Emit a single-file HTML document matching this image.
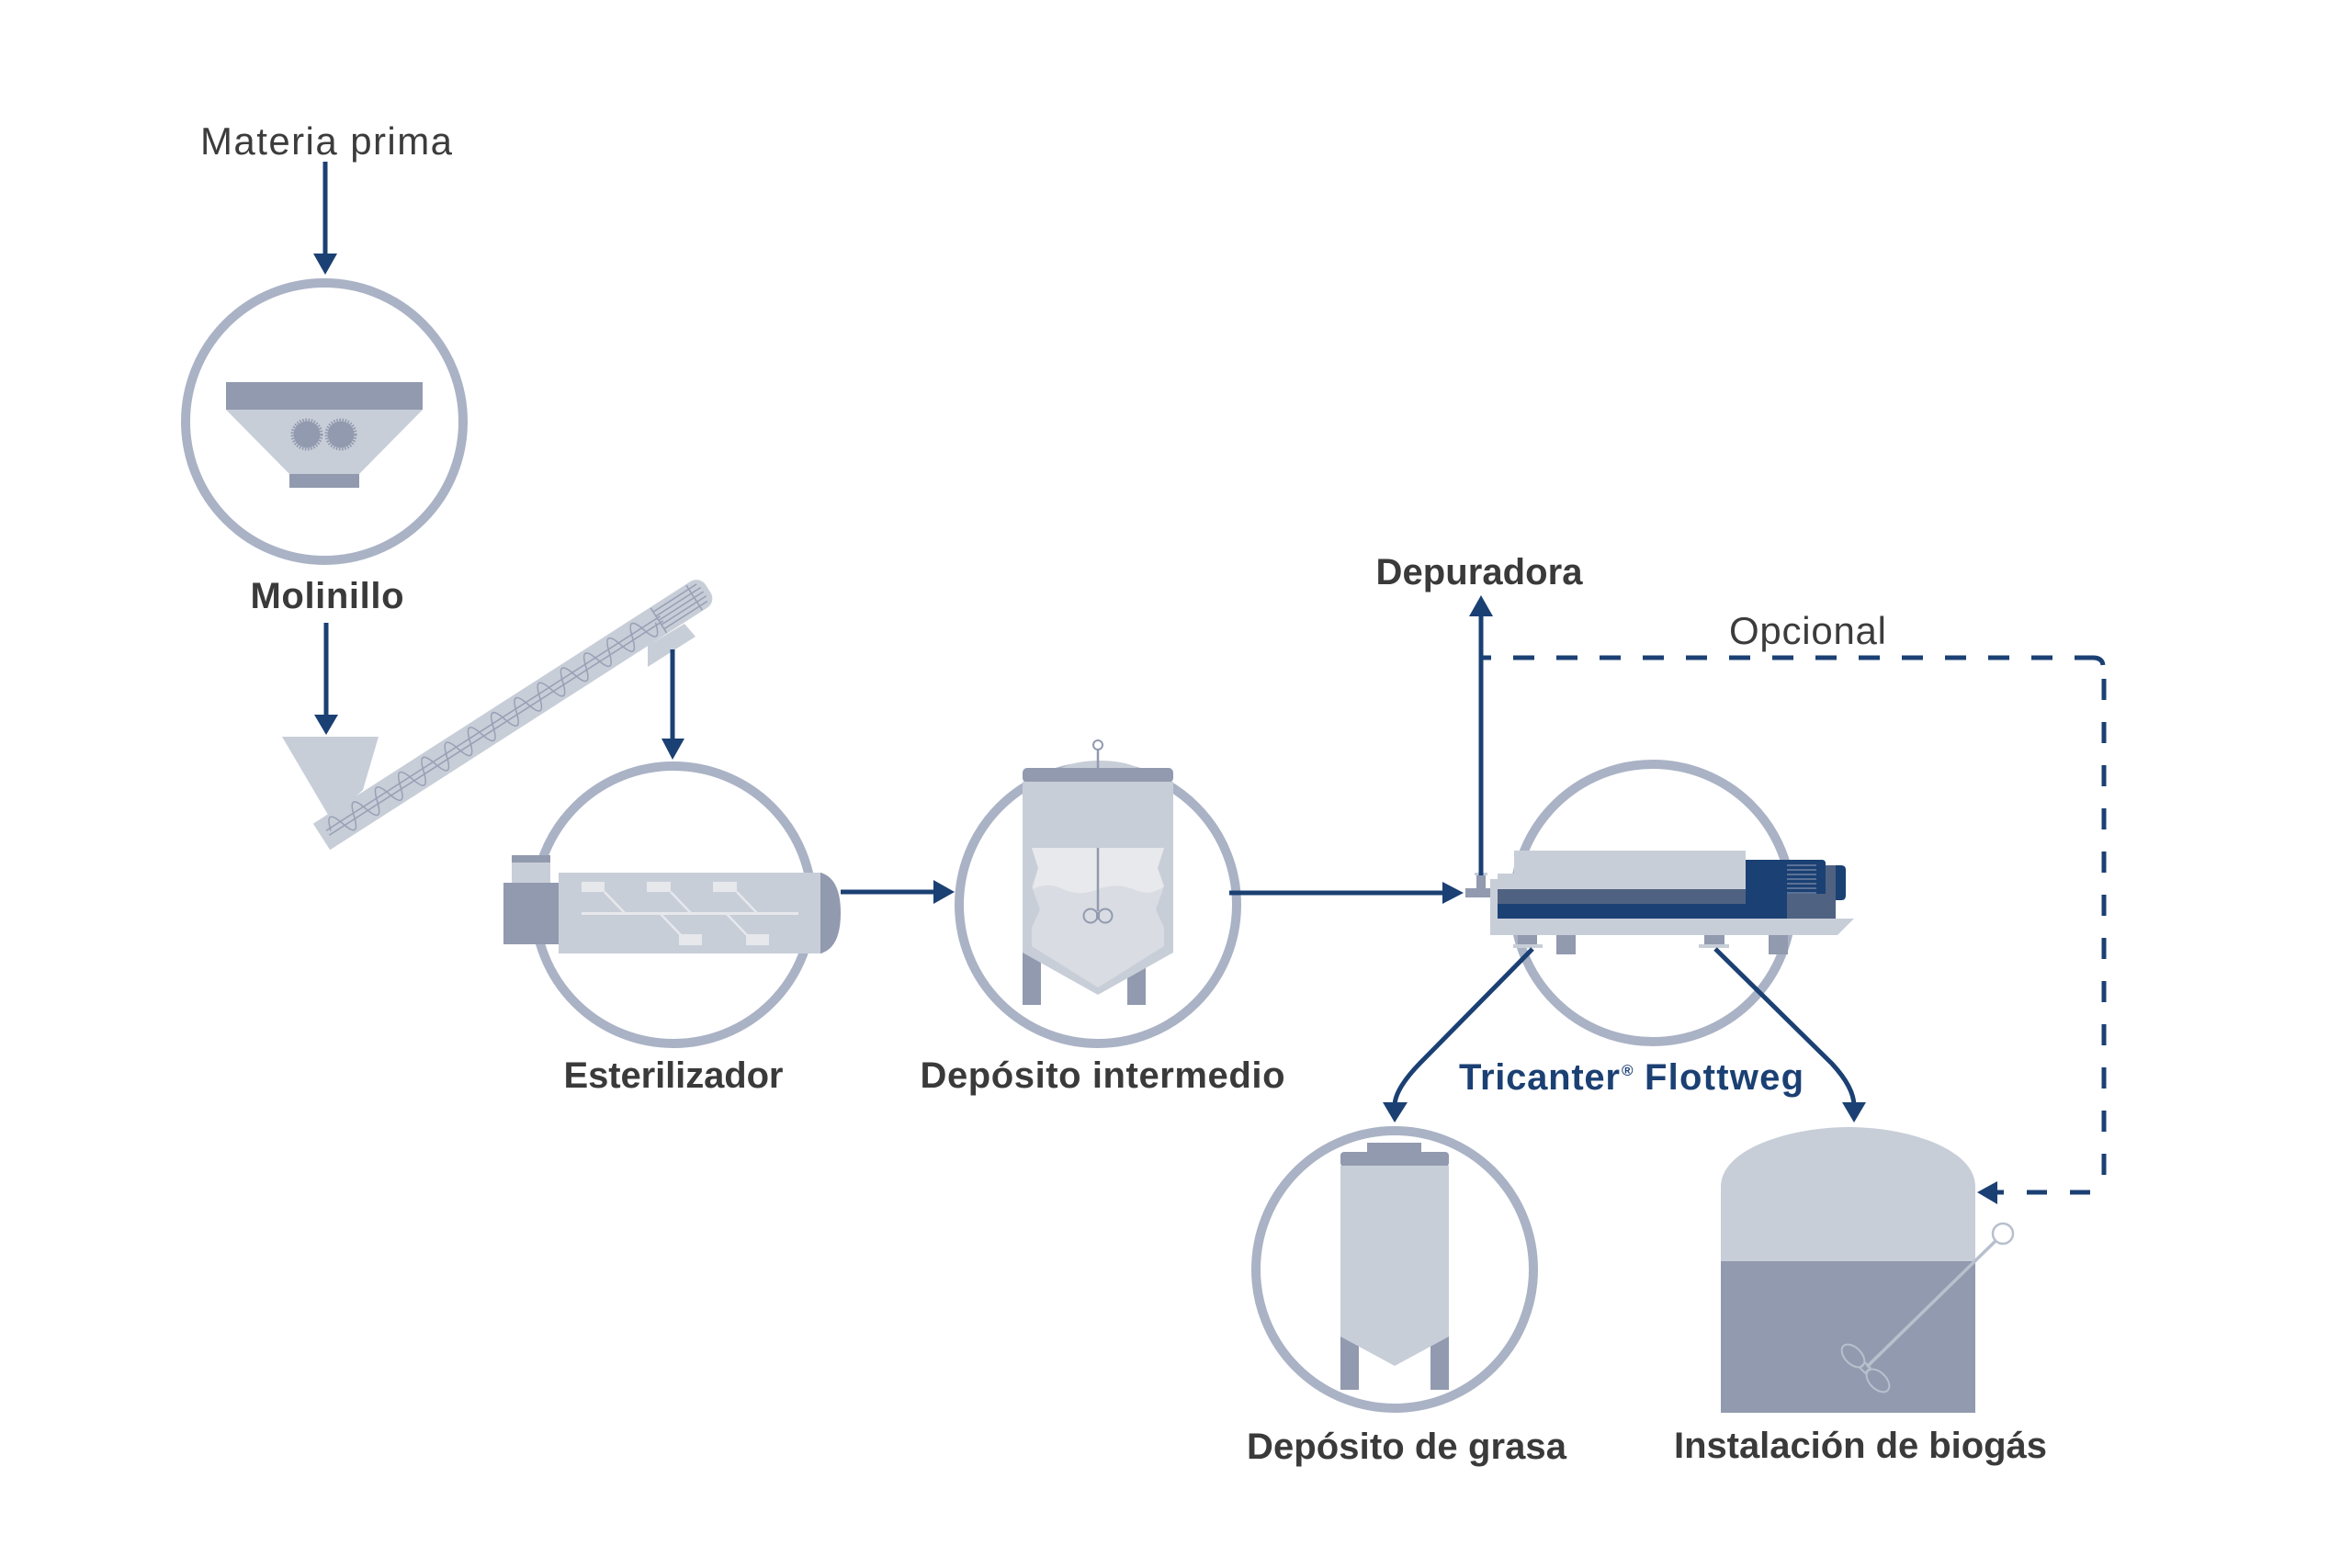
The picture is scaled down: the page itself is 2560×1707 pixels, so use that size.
<!DOCTYPE html>
<html>
<head>
<meta charset="utf-8">
<style>
  html,body{margin:0;padding:0;background:#ffffff;}
  svg{display:block;}
  .lt{font-family:"Liberation Sans",sans-serif;font-weight:400;fill:#3c3c3c;}
  .bd{font-family:"Liberation Sans",sans-serif;font-weight:700;fill:#3a3a3a;}
  .nv{font-family:"Liberation Sans",sans-serif;font-weight:700;fill:#1b4073;}
</style>
</head>
<body>
<svg width="2560" height="1707" viewBox="0 0 2560 1707" xmlns="http://www.w3.org/2000/svg">
  <rect x="0" y="0" width="2560" height="1707" fill="#ffffff"/>

  <!-- ============ Circles ============ -->
  <g fill="none" stroke="#aab2c5" stroke-width="10">
    <circle cx="353" cy="459" r="151"/>
    <circle cx="733" cy="985" r="151"/>
    <circle cx="1195" cy="985" r="151"/>
    <circle cx="1799" cy="983" r="151"/>
    <circle cx="1518" cy="1382" r="151"/>
  </g>

  <!-- ============ Labels ============ -->
  <text class="lt" x="355" y="168" font-size="42" text-anchor="middle" textLength="274">Materia prima</text>
  <text class="bd" x="356" y="662" font-size="40" text-anchor="middle" textLength="167">Molinillo</text>
  <text class="bd" x="733" y="1184" font-size="40" text-anchor="middle" textLength="239">Esterilizador</text>
  <text class="bd" x="1200" y="1184" font-size="40" text-anchor="middle" textLength="397">Depósito intermedio</text>
  <text class="bd" x="1610" y="636" font-size="40" text-anchor="middle" textLength="225">Depuradora</text>
  <text class="lt" x="1882" y="701" font-size="42" textLength="171">Opcional</text>
  <text class="nv" x="1588" y="1186" font-size="40" textLength="175">Tricanter</text>
  <text class="nv" x="1765" y="1171" font-size="17">®</text>
  <text class="nv" x="1790" y="1186" font-size="40" textLength="173">Flottweg</text>
  <text class="bd" x="1531" y="1588" font-size="40" text-anchor="middle" textLength="348">Depósito de grasa</text>
  <text class="bd" x="2025" y="1587" font-size="40" text-anchor="middle" textLength="406">Instalación de biogás</text>

  <!-- ============ Molinillo (grinder) ============ -->
  <rect x="246" y="416" width="214" height="30" fill="#929aaf"/>
  <polygon points="246,446 460,446 391,516 315,516" fill="#c8ced8"/>
  <rect x="315" y="516" width="76" height="15" fill="#929aaf"/>
  <circle cx="334" cy="473" r="14.5" fill="#929aaf"/>
  <circle cx="371" cy="473" r="14.5" fill="#929aaf"/>
  <circle cx="334" cy="473" r="16" fill="none" stroke="#929aaf" stroke-width="3" stroke-dasharray="1.6 1.6"/>
  <circle cx="371" cy="473" r="16" fill="none" stroke="#929aaf" stroke-width="3" stroke-dasharray="1.6 1.6"/>

  <!-- ============ Screw conveyor ============ -->
  <polygon points="307,802 412,802 395,860 360,892" fill="#c8ced8"/>
  <polygon points="705,703 705,726 757,693 745,679" fill="#c8ced8"/>
  <g transform="translate(350,911) rotate(-32.7)">
    <path d="M0,-17 H488 A12,12 0 0 1 500,-5 V5 A12,12 0 0 1 488,17 H0 Z" fill="#c8ced8"/>
    <g fill="none" stroke="#9aa1b6" stroke-width="1.6">
      <line x1="8" y1="-3" x2="440" y2="-3"/>
      <line x1="8" y1="3" x2="440" y2="3"/>
      <path d="M12,0 q7.5,-26 15,0 t15,0 t15,0 t15,0 t15,0 t15,0 t15,0 t15,0 t15,0 t15,0 t15,0 t15,0 t15,0 t15,0 t15,0 t15,0 t15,0 t15,0 t15,0 t15,0 t15,0 t15,0 t15,0 t15,0 t15,0 t15,0 t15,0 t15,0"/>
      <line x1="436" y1="-16" x2="436" y2="16"/>
      <line x1="482" y1="-16" x2="482" y2="16"/>
      <line x1="436" y1="-11" x2="492" y2="-11"/>
      <line x1="436" y1="-5.5" x2="494" y2="-5.5"/>
      <line x1="436" y1="0" x2="494" y2="0"/>
      <line x1="436" y1="5.5" x2="494" y2="5.5"/>
      <line x1="436" y1="11" x2="492" y2="11"/>
    </g>
  </g>

  <!-- ============ Esterilizador ============ -->
  <rect x="557" y="931" width="42" height="30" fill="#c8ced8"/>
  <rect x="557" y="931" width="42" height="8" fill="#929aaf"/>
  <rect x="548" y="961" width="60" height="67" fill="#929aaf"/>
  <rect x="608" y="950" width="287" height="88" fill="#c8ced8"/>
  <path d="M893,950 Q915,956 915,994 Q915,1032 893,1038 Z" fill="#929aaf"/>
  <g fill="#e6e8ec">
    <rect x="633" y="960" width="25" height="11"/>
    <rect x="704" y="960" width="26" height="11"/>
    <rect x="776" y="960" width="26" height="11"/>
    <rect x="739" y="1017" width="25" height="12"/>
    <rect x="812" y="1017" width="25" height="12"/>
    <rect x="633" y="993" width="236" height="3"/>
  </g>
  <g stroke="#e6e8ec" stroke-width="2.5" fill="none">
    <line x1="658" y1="971" x2="680" y2="994"/>
    <line x1="730" y1="971" x2="752" y2="994"/>
    <line x1="802" y1="971" x2="824" y2="994"/>
    <line x1="719" y1="995" x2="741" y2="1018"/>
    <line x1="791" y1="995" x2="813" y2="1018"/>
  </g>

  <!-- ============ Depósito intermedio ============ -->
  <ellipse cx="1197" cy="846" rx="50" ry="18" fill="#c8ced8"/>
  <line x1="1195" y1="816" x2="1195" y2="838" stroke="#929aaf" stroke-width="2.5"/>
  <circle cx="1195" cy="811" r="5" fill="#ffffff" stroke="#929aaf" stroke-width="2"/>
  <rect x="1113" y="836" width="164" height="16" rx="5" fill="#929aaf"/>
  <rect x="1113" y="1030" width="20" height="64" fill="#929aaf"/>
  <rect x="1227" y="1030" width="20" height="64" fill="#929aaf"/>
  <path d="M1113,851 H1277 V1037 L1195,1083 L1113,1037 Z" fill="#c8ced8"/>
  <path d="M1123,923 L1267,923 L1260,945 L1267,965 L1258,990 L1267,1010 L1267,1030 L1195,1075 L1123,1030 L1123,1010 L1132,990 L1123,965 L1130,945 Z" fill="#d9dce2"/>
  <path d="M1123,923 L1267,923 L1260,945 L1267,965 Q1252,976 1236,969 Q1216,960 1195,968 Q1175,977 1155,967 Q1139,960 1124,968 L1130,945 Z" fill="#e8e9ec"/>
  <line x1="1195" y1="923" x2="1195" y2="992" stroke="#929aaf" stroke-width="2.5"/>
  <circle cx="1187" cy="997" r="7.5" fill="none" stroke="#929aaf" stroke-width="2"/>
  <circle cx="1203" cy="997" r="7.5" fill="none" stroke="#929aaf" stroke-width="2"/>
  <rect x="1193" y="993" width="4" height="8" fill="#929aaf"/>

  <!-- ============ Tricanter ============ -->
  <path d="M1622,957 H1630 V951 H1648 V926 H1900 V1000 H2018 L2000,1018 H1622 Z" fill="#c8ced8"/>
  <rect x="1630" y="968" width="270" height="16" fill="#4f6282"/>
  <rect x="1630" y="984" width="315" height="16" fill="#1b4073"/>
  <path d="M1900,936 H1983 Q1987,936 1987,940 V973 H1945 V1000 H1900 Z" fill="#1b4073"/>
  <rect x="1945" y="973" width="53" height="27" fill="#4f6282"/>
  <rect x="1987" y="942" width="11" height="31" fill="#4f6282"/>
  <path d="M1998,942 H2004 Q2009,942 2009,947 V975 Q2009,980 2004,980 H1998 Z" fill="#1b4073"/>
  <g stroke="#6f81a2" stroke-width="1.5">
    <line x1="1945" y1="942" x2="1977" y2="942"/>
    <line x1="1945" y1="947" x2="1977" y2="947"/>
    <line x1="1945" y1="952" x2="1977" y2="952"/>
    <line x1="1945" y1="957" x2="1977" y2="957"/>
    <line x1="1945" y1="962" x2="1977" y2="962"/>
    <line x1="1945" y1="967" x2="1977" y2="967"/>
    <line x1="1945" y1="972" x2="1977" y2="972"/>
  </g>
  <rect x="1652" y="1018" width="21" height="10" fill="#929aaf"/>
  <rect x="1647" y="1028" width="32" height="4" fill="#c8ced8"/>
  <rect x="1694" y="1018" width="21" height="21" fill="#929aaf"/>
  <rect x="1855" y="1018" width="22" height="10" fill="#929aaf"/>
  <rect x="1849" y="1028" width="33" height="4" fill="#c8ced8"/>
  <rect x="1925" y="1018" width="21" height="21" fill="#929aaf"/>
  <!-- T-fitting -->
  <rect x="1595" y="967" width="27" height="10" fill="#929aaf"/>
  <rect x="1607" y="953" width="10" height="14" fill="#929aaf"/>
  <rect x="1605" y="950" width="14" height="3" fill="#c8ced8"/>

  <!-- ============ Depósito de grasa ============ -->
  <rect x="1488" y="1244" width="59" height="12" fill="#929aaf"/>
  <rect x="1459" y="1254" width="118" height="16" rx="4" fill="#929aaf"/>
  <rect x="1459" y="1455" width="20" height="58" fill="#929aaf"/>
  <rect x="1557" y="1455" width="20" height="58" fill="#929aaf"/>
  <path d="M1459,1269 H1577 V1455 L1518,1487 L1459,1455 Z" fill="#c8ced8"/>

  <!-- ============ Instalación de biogás ============ -->
  <path d="M1873,1373 V1292 C1873,1250 1950,1227 2012,1227 C2075,1227 2150,1250 2150,1292 V1373 Z" fill="#c8ced8"/>
  <rect x="1873" y="1373" width="277" height="165" fill="#929aaf"/>
  <line x1="2173" y1="1350" x2="2032" y2="1488" stroke="#b8bfcd" stroke-width="3.5"/>
  <circle cx="2180" cy="1343" r="11" fill="#ffffff" stroke="#b8bfcd" stroke-width="2.5"/>
  <ellipse cx="2017" cy="1476" rx="15" ry="9" transform="rotate(45 2017 1476)" fill="none" stroke="#b8bfcd" stroke-width="2"/>
  <ellipse cx="2044" cy="1503" rx="15" ry="9" transform="rotate(45 2044 1503)" fill="none" stroke="#b8bfcd" stroke-width="2"/>
  <rect x="2026" y="1485" width="8" height="8" transform="rotate(45 2030 1489)" fill="none" stroke="#b8bfcd" stroke-width="2"/>

  <!-- ============ Connectors ============ -->
  <g stroke="#1b4073" stroke-width="5" fill="none">
    <line x1="354" y1="176" x2="354" y2="280"/>
    <line x1="355" y1="678" x2="355" y2="782"/>
    <line x1="732" y1="707" x2="732" y2="808"/>
    <line x1="915" y1="971" x2="1020" y2="971"/>
    <line x1="1338" y1="972" x2="1575" y2="972"/>
    <line x1="1612" y1="953" x2="1612" y2="668"/>
    <path d="M1668,1033 L1545,1158 Q1518,1186 1518,1204"/>
    <path d="M1867,1033 L1994,1158 Q2018,1184 2018,1204"/>
  </g>
  <g fill="#1b4073">
    <polygon points="341,276 367,276 354,299"/>
    <polygon points="342,778 368,778 355,800"/>
    <polygon points="720,804 745,804 732,827"/>
    <polygon points="1016,958 1016,984 1039,971"/>
    <polygon points="1570,960 1570,984 1593,972"/>
    <polygon points="1599,671 1625,671 1612,648"/>
    <polygon points="1505,1200 1532,1200 1518,1222"/>
    <polygon points="2005,1200 2031,1200 2018,1222"/>
    <polygon points="2174,1286 2174,1311 2152,1298"/>
  </g>

  <!-- Dashed optional line -->
  <g stroke="#1b4073" stroke-width="5" fill="none">
    <path d="M1612,716 H2258" stroke-dasharray="23 24" stroke-dashoffset="12"/>
    <path d="M2258,716 H2278 Q2288,716 2289,724"/>
    <path d="M2290,739 V1298" stroke-dasharray="23 24"/>
    <path d="M2275,1298 H2172" stroke-dasharray="22 25"/>
  </g>
</svg>
</body>
</html>
